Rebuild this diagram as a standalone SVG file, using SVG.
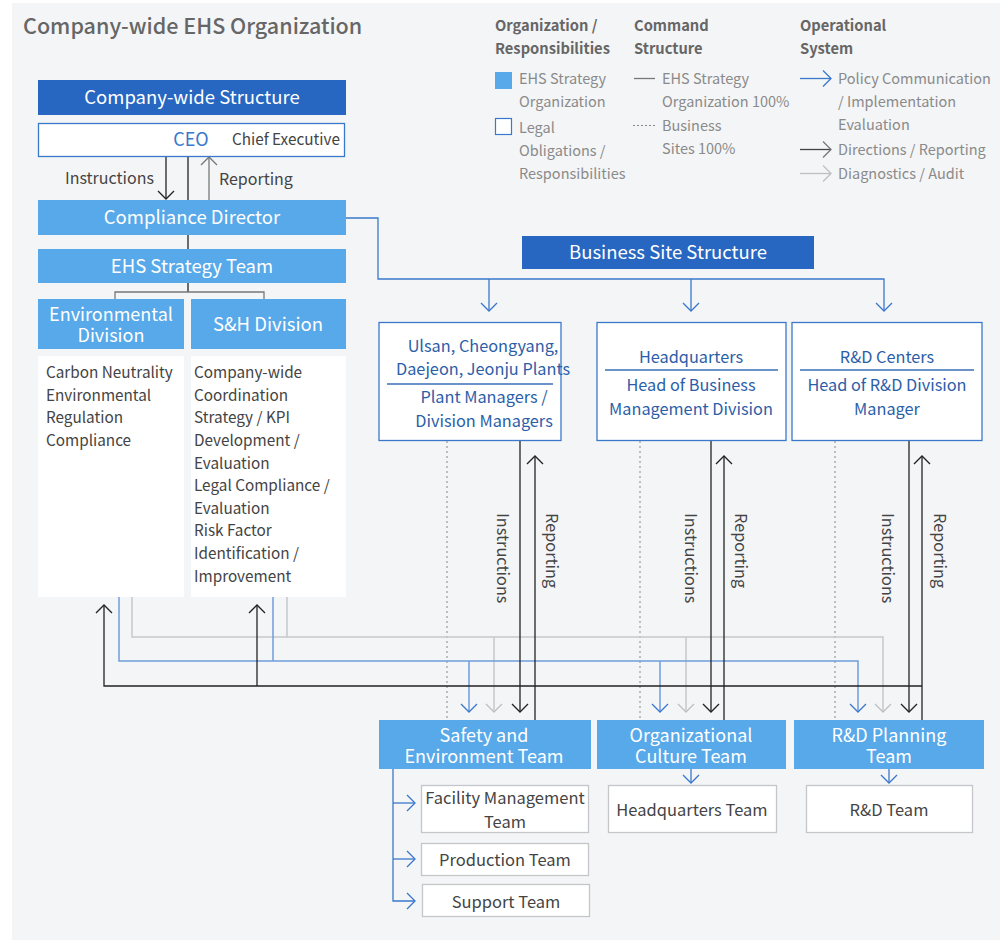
<svg xmlns="http://www.w3.org/2000/svg" width="1007" height="945" viewBox="0 0 1007 945">
<style>
text{font-family:"Noto Sans CJK KR","Noto Sans",sans-serif}
.title{font-size:21.5px;fill:#666;font-weight:500}
.lh{font-size:14.7px;fill:#666;font-weight:700}
.lt{font-size:14.5px;fill:#8a8a8a}
.hdr{font-size:18.5px;fill:#fff;text-anchor:middle}
.hdr2{font-size:18px;fill:#fff;text-anchor:middle}
.body{font-size:15.3px;fill:#444}
.lbl{font-size:16px;fill:#444}
.site{font-size:16.3px;fill:#2b5ea8;text-anchor:middle}
.sub{font-size:16.5px;fill:#444;text-anchor:middle}
.rot{font-size:16.3px;fill:#444}
.dark{fill:#2767c1}
.light{fill:#57a9ea}
.wbox{fill:#fff;stroke:#3a78cc;stroke-width:1.3}
.gbox{fill:#fff;stroke:#c4c6ca;stroke-width:1.3}
.plain{fill:#fff}
.k{stroke:#222;stroke-width:1.3;fill:none}
.kg{stroke:#777;stroke-width:1.3;fill:none}
.b{stroke:#3a78cc;stroke-width:1.3;fill:none}
.bl{stroke:#6f9ddc;stroke-width:1.5;fill:none}
.g{stroke:#c6c8cc;stroke-width:1.5;fill:none}
.d{stroke:#9a9a9a;stroke-width:1.2;stroke-dasharray:2 3;fill:none}
</style>
<defs>
<marker id="ak" markerUnits="userSpaceOnUse" markerWidth="20" markerHeight="20" refX="9" refY="9" orient="auto"><path d="M1,1 L9,9 L1,17" fill="none" stroke="#222" stroke-width="1.3"/></marker>
<marker id="akg" markerUnits="userSpaceOnUse" markerWidth="20" markerHeight="20" refX="9" refY="9" orient="auto"><path d="M1,1 L9,9 L1,17" fill="none" stroke="#777" stroke-width="1.3"/></marker>
<marker id="ab" markerUnits="userSpaceOnUse" markerWidth="20" markerHeight="20" refX="9" refY="9" orient="auto"><path d="M1,1 L9,9 L1,17" fill="none" stroke="#3a78cc" stroke-width="1.3"/></marker>
<marker id="ag" markerUnits="userSpaceOnUse" markerWidth="20" markerHeight="20" refX="9" refY="9" orient="auto"><path d="M1,1 L9,9 L1,17" fill="none" stroke="#bdbfc3" stroke-width="1.3"/></marker>
</defs>
<rect x="12" y="3" width="988" height="937" fill="#f4f5f7"/>
<text class="title" x="23" y="34">Company-wide EHS Organization</text>

<g id="legend">
<text class="lh" x="495" y="31">Organization /</text>
<text class="lh" x="495" y="54">Responsibilities</text>
<text class="lh" x="634" y="31">Command</text>
<text class="lh" x="634" y="54">Structure</text>
<text class="lh" x="800" y="31">Operational</text>
<text class="lh" x="800" y="54">System</text>
<rect x="495" y="72" width="17" height="17" fill="#57a9ea"/>
<text class="lt" x="519" y="84">EHS Strategy</text>
<text class="lt" x="519" y="107">Organization</text>
<rect x="495.5" y="118.5" width="16" height="16" fill="#fff" stroke="#3a78cc" stroke-width="1.2"/>
<text class="lt" x="519" y="133">Legal</text>
<text class="lt" x="519" y="156">Obligations /</text>
<text class="lt" x="519" y="179">Responsibilities</text>
<line x1="634" y1="78.5" x2="655" y2="78.5" stroke="#777" stroke-width="1.3"/>
<text class="lt" x="662" y="84">EHS Strategy</text>
<text class="lt" x="662" y="107">Organization 100%</text>
<line x1="633" y1="125.5" x2="656" y2="125.5" stroke="#888" stroke-width="1.2" stroke-dasharray="2 2"/>
<text class="lt" x="662" y="131">Business</text>
<text class="lt" x="662" y="154">Sites 100%</text>
<line x1="800" y1="78.5" x2="831" y2="78.5" class="b" marker-end="url(#ab)"/>
<text class="lt" x="838" y="84">Policy Communication</text>
<text class="lt" x="838" y="107">/ Implementation</text>
<text class="lt" x="838" y="130">Evaluation</text>
<line x1="800" y1="149.5" x2="831" y2="149.5" stroke="#444" stroke-width="1.3" marker-end="url(#akg)"/>
<text class="lt" x="838" y="155">Directions / Reporting</text>
<line x1="800" y1="173.5" x2="831" y2="173.5" stroke="#bdbfc3" stroke-width="1.3" marker-end="url(#ag)"/>
<text class="lt" x="838" y="179">Diagnostics / Audit</text>
</g>

<g id="connectors">
<path class="k" d="M188,156 V200 M188,235 V249 M188,283 V292"/>
<path class="kg" d="M115,299 V292 H264 V299"/>
<path class="k" d="M166,156 V199" marker-end="url(#ak)"/>
<path class="kg" d="M209,200 V157" marker-end="url(#akg)"/>
<path class="b" d="M346,218 H378 V279 H884 V311" marker-end="url(#ab)"/>
<path class="b" d="M489,279 V311" marker-end="url(#ab)"/>
<path class="b" d="M691,279 V311" marker-end="url(#ab)"/>
<path class="d" d="M447,441 V720 M640,441 V720 M835,441 V720"/>
<path class="g" d="M132,597 V637 H883 V712" marker-end="url(#ag)"/>
<path class="g" d="M287,597 V637"/>
<path class="g" d="M494,637 V712" marker-end="url(#ag)"/>
<path class="g" d="M686,637 V712" marker-end="url(#ag)"/>
<path class="bl" d="M119,597 V661 H858 V712" marker-end="url(#ab)"/>
<path class="bl" d="M273,597 V661"/>
<path class="bl" d="M469,661 V712" marker-end="url(#ab)"/>
<path class="bl" d="M660,661 V712" marker-end="url(#ab)"/>
<path class="k" d="M922,686 H104 V605" marker-end="url(#ak)"/>
<path class="k" d="M257,686 V605" marker-end="url(#ak)"/>
<path class="k" d="M535,720 V456" marker-end="url(#ak)"/>
<path class="k" d="M724,720 V456" marker-end="url(#ak)"/>
<path class="k" d="M922,720 V456" marker-end="url(#ak)"/>
<path class="k" d="M520,441 V712" marker-end="url(#ak)"/>
<path class="k" d="M711,441 V712" marker-end="url(#ak)"/>
<path class="k" d="M909,441 V712" marker-end="url(#ak)"/>
<path class="b" d="M691,769 V783" marker-end="url(#ab)"/>
<path class="b" d="M889,769 V783" marker-end="url(#ab)"/>
<path class="b" d="M393,769 V901 H415" marker-end="url(#ab)"/>
<path class="b" d="M393,803 H415" marker-end="url(#ab)"/>
<path class="b" d="M393,859 H415" marker-end="url(#ab)"/>
</g>

<g id="labels">
<text class="lbl" x="65" y="184">Instructions</text>
<text class="lbl" x="219" y="185">Reporting</text>
<text class="rot" transform="translate(497,513) rotate(90)">Instructions</text>
<text class="rot" transform="translate(546,513) rotate(90)">Reporting</text>
<text class="rot" transform="translate(685,513) rotate(90)">Instructions</text>
<text class="rot" transform="translate(735,513) rotate(90)">Reporting</text>
<text class="rot" transform="translate(882,513) rotate(90)">Instructions</text>
<text class="rot" transform="translate(934,513) rotate(90)">Reporting</text>
</g>

<g id="company-wide-structure">
<rect class="dark" x="38" y="80" width="308" height="35"/>
<text class="hdr" x="192" y="104">Company-wide Structure</text>
</g>
<g id="ceo">
<rect class="wbox" x="38.5" y="123.5" width="306" height="33"/>
<text x="191" y="146" font-size="18" fill="#3a78cc" text-anchor="middle">CEO</text>
<text class="body" x="232" y="145">Chief Executive</text>
</g>
<g id="compliance-director">
<rect class="light" x="38" y="200" width="308" height="35"/>
<text class="hdr" x="192" y="224">Compliance Director</text>
</g>
<g id="ehs-strategy-team">
<rect class="light" x="38" y="249" width="308" height="34"/>
<text class="hdr" x="192" y="273">EHS Strategy Team</text>
</g>
<g id="environmental-division">
<rect class="light" x="38" y="299" width="146" height="50"/>
<text class="hdr2" x="111" y="321">Environmental</text>
<text class="hdr2" x="111" y="342">Division</text>
<rect class="plain" x="38" y="356" width="146" height="241"/>
<text class="body" x="46" y="378">Carbon Neutrality</text>
<text class="body" x="46" y="401">Environmental</text>
<text class="body" x="46" y="423">Regulation</text>
<text class="body" x="46" y="446">Compliance</text>
</g>
<g id="sh-division">
<rect class="light" x="191" y="299" width="155" height="50"/>
<text class="hdr" x="268" y="331">S&amp;H Division</text>
<rect class="plain" x="191" y="356" width="155" height="241"/>
<text class="body" x="194" y="378">Company-wide</text>
<text class="body" x="194" y="401">Coordination</text>
<text class="body" x="194" y="423">Strategy / KPI</text>
<text class="body" x="194" y="446">Development /</text>
<text class="body" x="194" y="469">Evaluation</text>
<text class="body" x="194" y="491">Legal Compliance /</text>
<text class="body" x="194" y="514">Evaluation</text>
<text class="body" x="194" y="536">Risk Factor</text>
<text class="body" x="194" y="559">Identification /</text>
<text class="body" x="194" y="582">Improvement</text>
</g>

<g id="business-site-structure">
<rect class="dark" x="522" y="236" width="292" height="33"/>
<text class="hdr" x="668" y="259">Business Site Structure</text>
</g>
<g id="plants">
<rect class="wbox" x="379" y="322.5" width="182" height="118"/>
<text class="site" x="483" y="352">Ulsan, Cheongyang,</text>
<text class="site" x="483" y="375">Daejeon, Jeonju Plants</text>
<line x1="387" y1="384" x2="553" y2="384" stroke="#3a6fb8" stroke-width="1.5"/>
<text class="site" x="484" y="403">Plant Managers /</text>
<text class="site" x="484" y="427">Division Managers</text>
</g>
<g id="headquarters">
<rect class="wbox" x="597" y="322.5" width="189" height="118"/>
<text class="site" x="691" y="363">Headquarters</text>
<line x1="605" y1="370" x2="778" y2="370" stroke="#3a6fb8" stroke-width="1.5"/>
<text class="site" x="691" y="391">Head of Business</text>
<text class="site" x="691" y="415">Management Division</text>
</g>
<g id="rd-centers">
<rect class="wbox" x="792" y="322.5" width="190" height="118"/>
<text class="site" x="887" y="363">R&amp;D Centers</text>
<line x1="800" y1="370" x2="974" y2="370" stroke="#3a6fb8" stroke-width="1.5"/>
<text class="site" x="887" y="391">Head of R&amp;D Division</text>
<text class="site" x="887" y="415">Manager</text>
</g>

<g id="safety-environment-team">
<rect class="light" x="379" y="720" width="212" height="49"/>
<text class="hdr2" x="484" y="742">Safety and</text>
<text class="hdr2" x="484" y="763">Environment Team</text>
</g>
<g id="organizational-culture-team">
<rect class="light" x="597" y="720" width="189" height="49"/>
<text class="hdr2" x="691" y="742">Organizational</text>
<text class="hdr2" x="691" y="763">Culture Team</text>
</g>
<g id="rd-planning-team">
<rect class="light" x="794" y="720" width="190" height="49"/>
<text class="hdr2" x="889" y="742">R&amp;D Planning</text>
<text class="hdr2" x="889" y="763">Team</text>
</g>
<g id="facility-management-team">
<rect class="gbox" x="421.5" y="785.5" width="167" height="47"/>
<text class="sub" x="505" y="804">Facility Management</text>
<text class="sub" x="505" y="828">Team</text>
</g>
<g id="production-team">
<rect class="gbox" x="421.5" y="843.5" width="167" height="32"/>
<text class="sub" x="505" y="866">Production Team</text>
</g>
<g id="support-team">
<rect class="gbox" x="422.5" y="884.5" width="167" height="32"/>
<text class="sub" x="506" y="908">Support Team</text>
</g>
<g id="headquarters-team">
<rect class="gbox" x="608.5" y="785.5" width="168" height="47"/>
<text class="sub" x="692" y="816">Headquarters Team</text>
</g>
<g id="rd-team">
<rect class="gbox" x="806.5" y="785.5" width="166" height="47"/>
<text class="sub" x="889" y="816">R&amp;D Team</text>
</g>
</svg>
